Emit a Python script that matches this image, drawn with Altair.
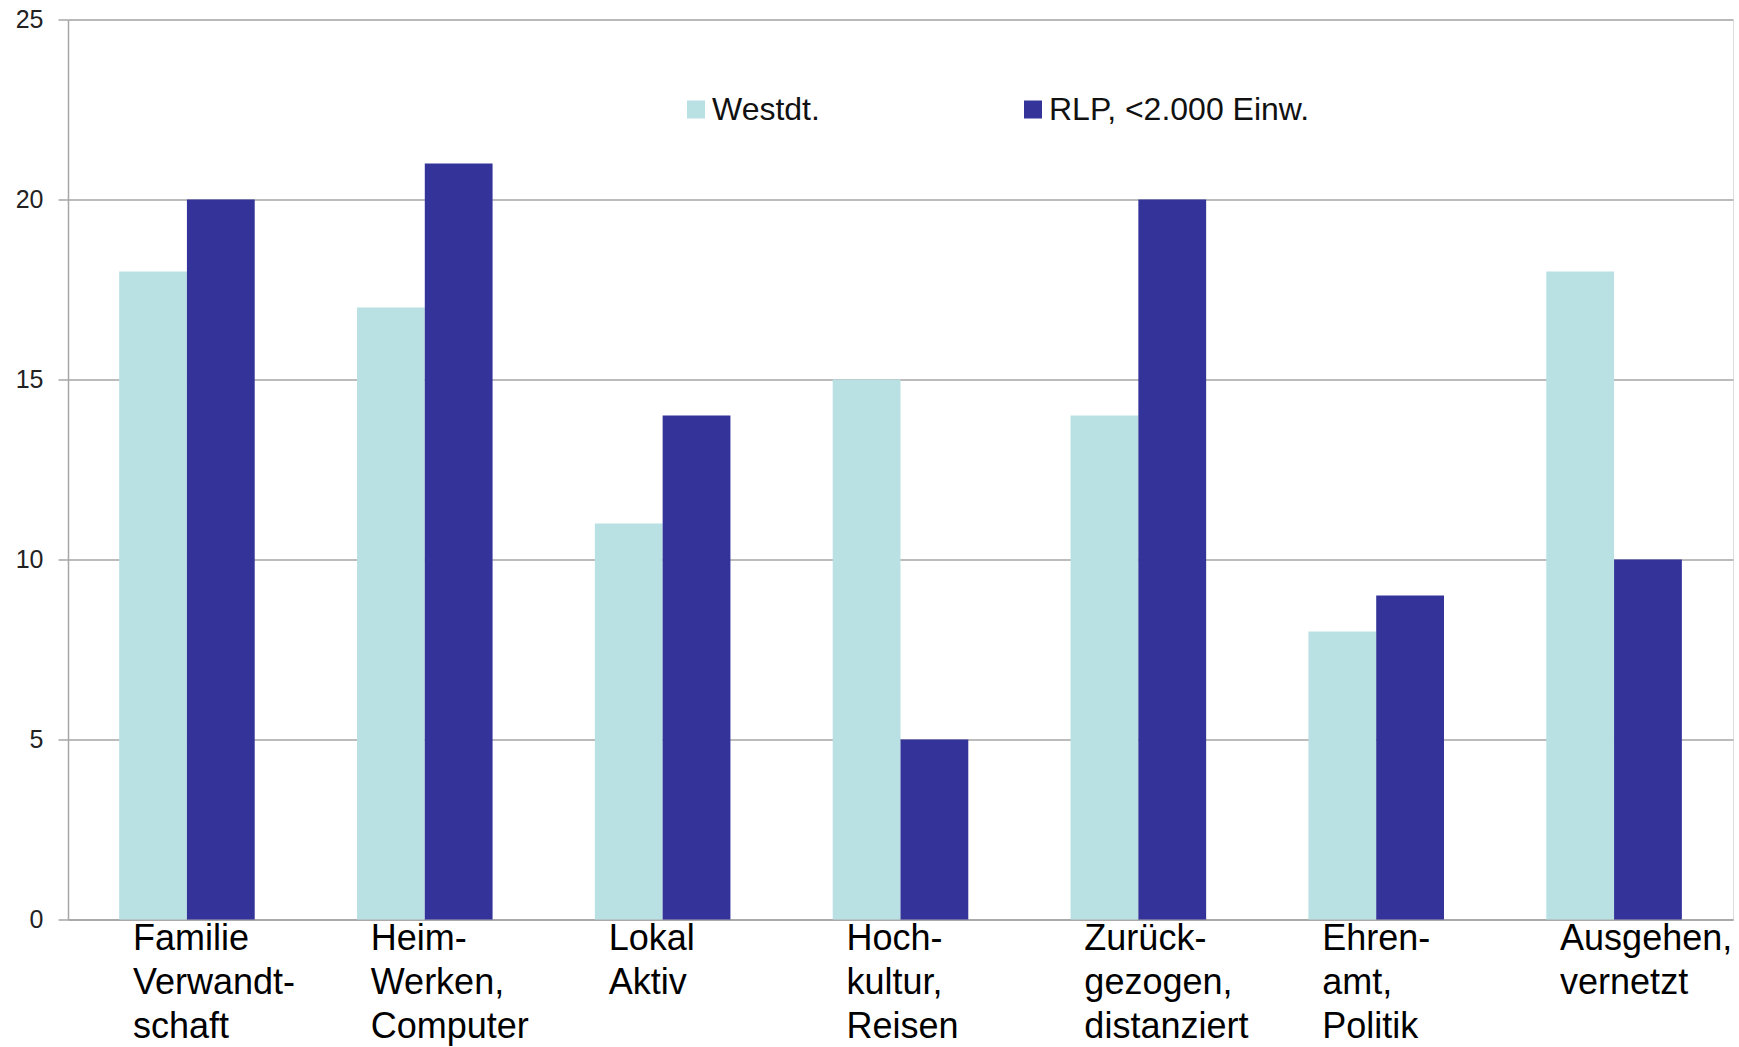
import altair as alt
import pandas as pd

# Lebensstil-Gruppen (Zeilenumbrüche wie in den Achsenbeschriftungen)
categories = [
    "Familie\nVerwandt-\nschaft",
    "Heim-\nWerken,\nComputer",
    "Lokal\nAktiv",
    "Hoch-\nkultur,\nReisen",
    "Zurück-\ngezogen,\ndistanziert",
    "Ehren-\namt,\nPolitik",
    "Ausgehen,\nvernetzt",
]
series = ["Westdt.", "RLP, <2.000 Einw."]
westdt = [18, 17, 11, 15, 14, 8, 18]
rlp = [20, 21, 14, 5, 20, 9, 10]
colors = ["#B9E0E3", "#343399"]
y_ticks = [0, 5, 10, 15, 20, 25]

rows = []
for cat, a, b in zip(categories, westdt, rlp):
    rows.append({"Gruppe": cat, "Serie": series[0], "Wert": a})
    rows.append({"Gruppe": cat, "Serie": series[1], "Wert": b})
df = pd.DataFrame(rows)

grid_color = "#A6A6A6"

chart = (
    alt.Chart(df)
    .mark_bar()
    .encode(
        x=alt.X(
            "Gruppe:N",
            sort=categories,
            scale=alt.Scale(paddingInner=0.43, paddingOuter=0.215),
            axis=alt.Axis(
                title=None,
                ticks=False,
                domain=True,
                domainColor=grid_color,
                domainWidth=1.5,
                labelExpr="split(datum.label, '\\n')",
                labelAngle=0,
                labelAlign="left",
                labelBaseline="top",
                labelOffset=-54,
                labelPadding=2,
                labelFont="Liberation Sans",
                labelFontSize=36,
                labelLineHeight=44,
                labelColor="#000000",
                labelLimit=400,
                labelOverlap=False,
                labelBound=False,
            ),
        ),
        xOffset=alt.XOffset("Serie:N", sort=series, scale=alt.Scale(paddingInner=0, paddingOuter=0)),
        y=alt.Y(
            "Wert:Q",
            scale=alt.Scale(domain=[0, 25], nice=False),
            axis=alt.Axis(
                title=None,
                values=y_ticks,
                grid=True,
                gridColor=grid_color,
                gridWidth=1.5,
                domainColor=grid_color,
                domainWidth=1.5,
                tickColor=grid_color,
                tickWidth=1.5,
                tickSize=10,
                labelPadding=15,
                labelFont="Liberation Sans",
                labelFontSize=25,
                labelColor="#222222",
            ),
        ),
        color=alt.Color(
            "Serie:N",
            sort=series,
            scale=alt.Scale(domain=series, range=colors),
            legend=alt.Legend(
                title=None,
                orient="none",
                direction="horizontal",
                columns=2,
                legendX=612,
                legendY=74,
                columnPadding=197,
                symbolType="square",
                symbolSize=324,
                symbolStrokeWidth=0,
                labelOffset=0,
                labelFont="Liberation Sans",
                labelFontSize=32,
                labelLimit=500,
                labelColor="#111111",
                padding=0,
            ),
        ),
    )
    .properties(
        width=1665,
        height=900,
        autosize=alt.AutoSizeParams(type="none"),
        padding={"left": 68, "top": 19.5, "right": 6, "bottom": 127},
    )
    .configure_view(stroke=None)
    .configure(background="white")
)

chart.save("out.html", embed_options={"renderer": "svg", "actions": False})
